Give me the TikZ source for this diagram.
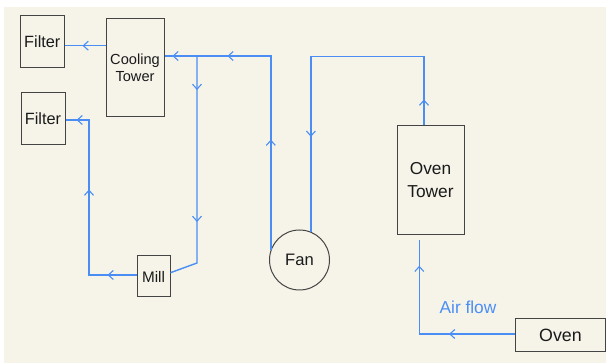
\documentclass[tikz,border=0pt]{standalone}
\usepackage{fontspec}
\setmainfont{Liberation Sans}
\usetikzlibrary{arrows.meta,decorations.markings,calc}
\definecolor{bgcream}{HTML}{F6F4E9}
\definecolor{flowblue}{HTML}{4A8EF5}
\definecolor{boxgray}{HTML}{444444}
\definecolor{txt}{HTML}{1A1A1A}
\pgfkeys{/pgf/decoration/amark/.style={mark=at position #1 with {\arrow[flowblue,line width=1.1pt]{Straight Barb[length=5pt,width=9pt]}}}}
\tikzset{
  box/.style={draw=boxgray,line width=1pt,inner sep=0pt,text=txt,align=center},
  flow/.style={draw=flowblue,line width=1.4pt},
  arrs/.style={postaction={decorate,decoration={markings,amark/.list={#1}}}}
}
\begin{document}
\begin{tikzpicture}[x=1pt,y=-1pt]
\useasboundingbox (0,0) rectangle (606,363);
\fill[bgcream] (4,7) rectangle (606,363);
% nodes
\node[box,minimum width=43.5pt,minimum height=52pt,font=\fontsize{16.3}{18}\selectfont] (f1) at (42.3,42) {Filter};
\node[box,minimum width=58pt,minimum height=98pt,font=\fontsize{14.6}{16.5}\selectfont] (ct) at (135,68) {Cooling\\Tower};
\node[box,minimum width=44pt,minimum height=52pt,font=\fontsize{16.3}{18}\selectfont] (f2) at (43,119) {Filter};
\node[box,minimum width=33pt,minimum height=41pt,font=\fontsize{15.3}{17}\selectfont] (mill) at (153.5,276.5) {Mill};
\node[box,circle,minimum size=60pt,font=\fontsize{16.6}{18}\selectfont] (fan) at (299.5,260) {Fan};
\node[box,minimum width=67pt,minimum height=109pt,font=\fontsize{17.3}{23}\selectfont] (ot) at (430.5,180.5) {Oven\\Tower};
\node[box,minimum width=90pt,minimum height=33pt,font=\fontsize{17.8}{20}\selectfont] (oven) at (560.5,335.5) {Oven};
\node[text=flowblue,inner sep=0pt,font=\fontsize{17.3}{20}\selectfont] (air) at (468,307) {Air flow};
% junction points
\coordinate (j) at (197,56);
\coordinate (tr) at (424,56.7);
\coordinate (ml) at (89,275);
% connectors
\draw[flow,arrs={23pt}] (ct.west |- 0,45.7) -- (f1.east |- 0,45.7);
\draw[flow,arrs={110pt,237pt,292pt}] (fan.160) -- (fan.160 |- j) -- (ct.east |- j);
\draw[flow,arrs={34pt,166pt}] (j) -- (j |- 0,263) -- (mill.east |- 0,272.7);
\draw[flow,arrs={29pt,133pt,215pt}] (mill.west |- ml) -- (ml) -- (ml |- 0,120) -- (f2.east |- 0,120);
\draw[flow,arrs={26pt,262pt}] (tr |- ot.north) -- (tr) -- (fan.68 |- tr) -- (fan.68);
\draw[flow,arrs={66pt,164pt}] (oven.west |- 0,334) -- (419.3,334) -- (419.3,240);
\end{tikzpicture}
\end{document}
